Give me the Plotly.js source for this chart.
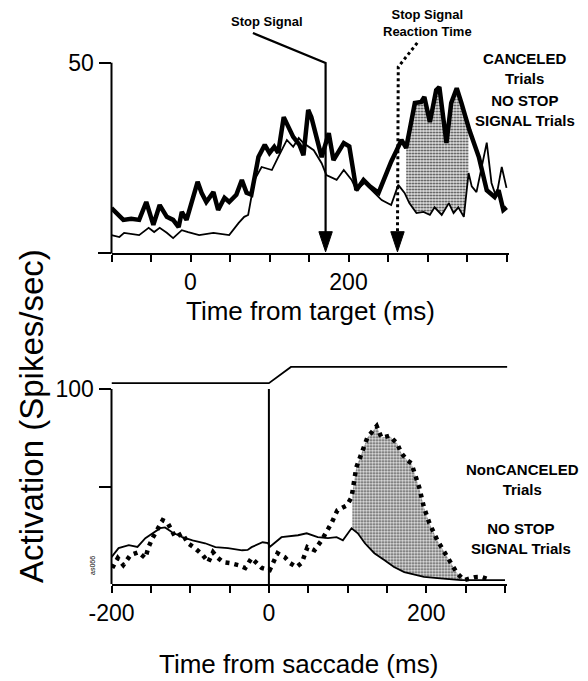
<!DOCTYPE html>
<html><head><meta charset="utf-8">
<script src="https://cdn.plot.ly/plotly-3.0.1.min.js"></script>
<style>html,body{margin:0;padding:0;background:#fff}</style>
</head><body><div id="chart" style="width:588px;height:681px"></div>
<script>
// ---------- DATA ----------
// Top panel: aligned on target
const canceledTime = [-100,-85,-75,-65,-56,-47,-39,-30,-22,-15,-11,-5,9,14,20,29,35,43,49,58,65,71,77,86,94,100,106,111,118,124,130,138,143,149,153,166,175,181,194,201,210,219,227,238,246,254,261,267,273,284,292,296,303,311,315,324,330,337,343,353,365,375,385,390,396,400];
const canceledRate = [11.8,8.7,9.0,8.7,13.4,7.4,12.6,9.5,8.7,6.8,10.8,8.7,18.7,15.8,13.4,16.0,11.3,14.5,13.4,15.3,19.2,15.8,15.3,25.2,28.4,26.3,27.9,26.3,35.7,33.0,30.5,28.4,25.7,37.6,35.7,25.2,31.5,24.4,28.9,28.0,16.5,19.2,17.5,15.8,20.0,24.0,27.0,29.7,27.6,39.4,39.7,41.0,34.4,42.8,43.6,28.9,39.4,43.3,39.4,32.3,25.2,16.5,14.7,16.5,11.3,12.0];
const noStopTargetTime = [-100,-90,-84,-65,-53,-46,-39,-30,-22,-11,-3,11,29,49,61,68,73,81,90,103,111,122,130,137,143,156,166,172,185,194,204,210,220,229,242,254,263,271,277,286,295,303,309,318,327,333,339,346,352,356,362,375,381,387,394,400];
const noStopTargetRate = [4.7,4.2,5.3,4.7,6.6,5.5,6.6,5.3,3.9,6.0,5.5,4.7,5.3,4.7,7.9,9.5,10.0,19.2,22.6,21.8,25.2,29.7,27.9,30.2,28.9,27.0,23.6,20.5,19.2,21.8,19.2,16.5,18.4,16.5,13.9,12.6,17.9,15.8,13.1,10.5,10.8,10.0,12.0,10.0,13.1,10.5,12.0,9.5,21.0,17.5,16.0,29.0,18.4,14.7,22.6,17.1];
// Bottom panel: aligned on saccade
const nonCanceledTime = [-199,-192,-185,-176,-166,-157,-153,-148,-135,-129,-125,-119,-110,-103,-94,-87,-84,-77,-71,-66,-58,-49,-39,-30,-22,-9,1,11,20,27,35,42,49,58,67,80,87,99,105,111,119,125,137,143,153,163,168,176,181,185,191,197,204,214,223,232,239,248,262,270,282];
const nonCanceledRate = [8.2,13.3,9.7,14.8,16.3,13.3,18.9,23.5,32.7,31.6,28.6,24.0,26.0,20.9,18.4,15.8,14.8,11.2,16.3,13.8,11.2,10.7,9.7,8.2,13.3,8.2,7.1,15.8,13.8,10.7,8.7,11.0,18.9,17.3,22.4,31.6,37.8,40.3,44.4,59.7,68.4,75.0,81.0,75.0,76.0,72.0,67.3,63.3,62.0,56.6,49.5,39.3,31.1,22.4,16.3,10.7,5.6,2.0,3.5,3.6,2.0];
const noStopSaccadeTime = [-200,-191,-178,-167,-157,-148,-138,-132,-123,-110,-97,-81,-68,-52,-34,-27,-22,-8,-1,1,16,37,48,62,75,86,94,105,113,122,134,147,159,172,185,197,214,232,244,300];
const noStopSaccadeRate = [13.8,18.4,19.9,19.0,23.5,26.0,28.6,29.0,26.5,24.0,22.4,20.9,18.9,18.4,17.3,17.5,18.9,21.4,21.0,19.0,24.0,25.0,26.0,24.0,23.5,24.0,22.4,28.6,26.0,20.9,15.8,12.2,8.7,6.1,4.6,3.6,3.0,2.6,2.0,2.0];
// Eye position trace (schematic) above bottom panel
const eyeTime = [-200, 0, 28, 303];
const eyePos = [103, 103, 111.3, 111.3];
// Ticks
const targetTickVals = [-100,-50,0,50,100,150,200,250,300,350,400];
const targetTickText = ['','','0','','','','200','','','',''];
const saccadeTickVals = [-200,-150,-100,-50,0,50,100,150,200,250,300];
const saccadeTickText = ['-200','','','','0','','','','200','',''];
// Events (ms from target): stop signal, stop signal reaction time
const eventTimes = [171, 262];
// Shaded intervals
const topShade = [273, 352];
const bottomShade = [106, 246];

// ---------- HELPERS ----------
function interp(xs, ys, x){
  for(let i=0;i<xs.length-1;i++){
    if(x>=xs[i] && x<=xs[i+1]){ const t=(x-xs[i])/(xs[i+1]-xs[i]); return ys[i]+t*(ys[i+1]-ys[i]); }
  }
  return ys[ys.length-1];
}
function segment(xs, ys, lo, hi){
  const sx=[lo], sy=[interp(xs,ys,lo)];
  xs.forEach((x,i)=>{ if(x>lo && x<hi){ sx.push(x); sy.push(ys[i]); } });
  sx.push(hi); sy.push(interp(xs,ys,hi));
  return {x:sx, y:sy};
}
const W=588, H=681;
const PX = px => px/W, PY = py => 1-py/H;

// geometry (pixels)
const T = {left:111.5, xr:[-100,403], sx:0.79, bottom:253, yr:[0,62], sy:3.806};
T.right = T.left + (T.xr[1]-T.xr[0])*T.sx;
T.top = T.bottom - T.yr[1]*T.sy;
const B = {left:111.5, xr:[-200,303], sx:0.787, bottom:584, yr:[0,113], sy:1.95};
B.right = B.left + (B.xr[1]-B.xr[0])*B.sx;
B.top = B.bottom - B.yr[1]*B.sy;

const FONT = 'Liberation Sans, Arial, Helvetica, sans-serif';
const pattern = {shape:'.', size:3, solidity:0.35, fgcolor:'#333', bgcolor:'#e4e4e4'};

const ts = segment(noStopTargetTime, noStopTargetRate, topShade[0], topShade[1]);
const tc = segment(canceledTime, canceledRate, topShade[0], topShade[1]);
const bs = segment(noStopSaccadeTime, noStopSaccadeRate, bottomShade[0], bottomShade[1]);
const bn = segment(nonCanceledTime, nonCanceledRate, bottomShade[0], bottomShade[1]);

const data = [
  {x:ts.x, y:ts.y, xaxis:'x', yaxis:'y', mode:'lines', line:{width:0, color:'rgba(0,0,0,0)'}, hoverinfo:'skip', showlegend:false},
  {x:tc.x, y:tc.y, xaxis:'x', yaxis:'y', mode:'lines', line:{width:0, color:'rgba(0,0,0,0)'}, fill:'tonexty', fillcolor:'#c8c8c8', fillpattern:pattern, hoverinfo:'skip', showlegend:false},
  {x:noStopTargetTime, y:noStopTargetRate, xaxis:'x', yaxis:'y', mode:'lines', name:'NO STOP SIGNAL Trials', line:{color:'#000', width:1.8}, showlegend:false},
  {x:canceledTime, y:canceledRate, xaxis:'x', yaxis:'y', mode:'lines', name:'CANCELED Trials', line:{color:'#000', width:4.5}, showlegend:false},
  {x:bs.x, y:bs.y, xaxis:'x2', yaxis:'y2', mode:'lines', line:{width:0, color:'rgba(0,0,0,0)'}, hoverinfo:'skip', showlegend:false},
  {x:bn.x, y:bn.y, xaxis:'x2', yaxis:'y2', mode:'lines', line:{width:0, color:'rgba(0,0,0,0)'}, fill:'tonexty', fillcolor:'#c8c8c8', fillpattern:pattern, hoverinfo:'skip', showlegend:false},
  {x:noStopSaccadeTime, y:noStopSaccadeRate, xaxis:'x2', yaxis:'y2', mode:'lines', name:'NO STOP SIGNAL Trials', line:{color:'#000', width:1.8}, showlegend:false},
  {x:nonCanceledTime, y:nonCanceledRate, xaxis:'x2', yaxis:'y2', mode:'lines', name:'NonCANCELED Trials', line:{color:'#000', width:4.5, dash:'4px,5px'}, showlegend:false},
  {x:eyeTime, y:eyePos, xaxis:'x2', yaxis:'y2', mode:'lines', name:'Eye position', line:{color:'#000', width:1.8}, showlegend:false}
];

const axCommon = {showgrid:false, zeroline:false, ticks:'outside', tickwidth:2, tickcolor:'#000', color:'#000', fixedrange:true,
  tickfont:{family:FONT, size:23, color:'#000'}};

function label(text, px, py, size, opts){
  return Object.assign({text:text, x:PX(px), y:PY(py), xref:'paper', yref:'paper', xanchor:'center', yanchor:'middle', showarrow:false,
    font:{family:FONT, size:size, color:'#000'}}, opts||{});
}
const bold = s => ({font:{family:FONT, size:s, color:'#000', weight:'bold'}});

const layout = {
  width:W, height:H, margin:{l:0,r:0,t:0,b:0}, paper_bgcolor:'#fff', plot_bgcolor:'rgba(0,0,0,0)', showlegend:false,
  xaxis: Object.assign({}, axCommon, {domain:[PX(T.left), PX(T.right)], range:T.xr, anchor:'y', showline:true, linewidth:2, linecolor:'#000', ticklen:7, tickvals:targetTickVals, ticktext:targetTickText}),
  yaxis: Object.assign({}, axCommon, {domain:[PY(T.bottom), PY(T.top)], range:T.yr, anchor:'x', showline:false, ticklen:12, tickvals:[50], ticktext:['50']}),
  xaxis2: Object.assign({}, axCommon, {domain:[PX(B.left), PX(B.right)], range:B.xr, anchor:'y2', showline:true, linewidth:2, linecolor:'#000', ticklen:7, tickvals:saccadeTickVals, ticktext:saccadeTickText}),
  yaxis2: Object.assign({}, axCommon, {domain:[PY(B.bottom), PY(B.top)], range:B.yr, anchor:'x2', showline:false, ticklen:12, tickvals:[50,100], ticktext:['','100']}),
  shapes: [
    {type:'line', xref:'paper', yref:'paper', x0:PX(98), x1:PX(T.left), y0:PY(T.bottom), y1:PY(T.bottom), line:{color:'#000', width:2}},
    {type:'line', xref:'paper', yref:'paper', x0:PX(T.left), x1:PX(T.left), y0:PY(T.bottom), y1:PY(T.bottom-50*T.sy), line:{color:'#000', width:2}},
    {type:'line', xref:'paper', yref:'paper', x0:PX(B.left), x1:PX(B.left), y0:PY(B.bottom), y1:PY(B.bottom-100*B.sy), line:{color:'#000', width:2}},
    {type:'line', xref:'x2', yref:'y2', x0:0, x1:0, y0:0, y1:100, line:{color:'#000', width:2}},
    {type:'path', xref:'x', yref:'y', path:`M ${eventTimes[0]-92},57.8 L ${eventTimes[0]},49.9 L ${eventTimes[0]},5.4`, line:{color:'#000', width:2.2}},
    {type:'path', xref:'x', yref:'y', path:`M ${eventTimes[0]-8.5},5.6 L ${eventTimes[0]+8.5},5.6 L ${eventTimes[0]},0.3 Z`, fillcolor:'#000', line:{color:'#000', width:1}},
    {type:'path', xref:'x', yref:'y', path:`M ${eventTimes[1]+25},55.2 L ${eventTimes[1]+1},48.9 L ${eventTimes[1]},5.4`, line:{color:'#000', width:3, dash:'3px,3px'}},
    {type:'path', xref:'x', yref:'y', path:`M ${eventTimes[1]-8.5},5.6 L ${eventTimes[1]+8.5},5.6 L ${eventTimes[1]},0.3 Z`, fillcolor:'#000', line:{color:'#000', width:1}}
  ],
  annotations: [
    label('Stop Signal', 267, 21, 13, bold(13)),
    label('Stop Signal<br>Reaction Time', 427, 23, 13, bold(13)),
    label('CANCELED<br>Trials', 525, 68, 15, bold(15)),
    label('NO STOP<br>SIGNAL Trials', 525, 111, 15, bold(15)),
    label('NonCANCELED<br>Trials', 522, 479, 15, bold(15)),
    label('NO STOP<br>SIGNAL Trials', 521, 538, 15, bold(15)),
    label('as066', 92, 566, 7, {textangle:-90}),
    label('Time from target (ms)', 310, 311, 26),
    label('Time from saccade (ms)', 298, 664, 26),
    label('Activation (Spikes/sec)', 31, 416, 33, {textangle:-90})
  ]
};

Plotly.newPlot('chart', data, layout, {staticPlot:true, displayModeBar:false});
</script>
</body></html>
